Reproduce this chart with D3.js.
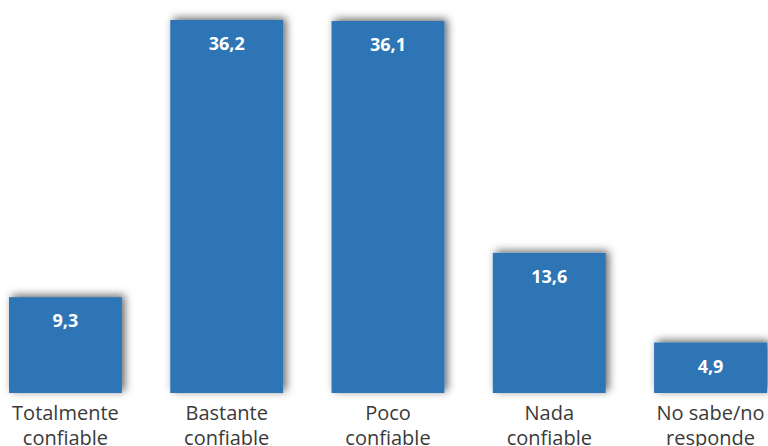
<!DOCTYPE html>
<html><head><meta charset="utf-8">
<script src="https://cdn.jsdelivr.net/npm/d3@7"></script>
<style>body{margin:0;background:#fff}svg{display:block}</style>
</head><body>
<script>
const categories = [["Totalmente","confiable"],["Bastante","confiable"],["Poco","confiable"],["Nada","confiable"],["No sabe/no","responde"]];
const values = [9.3, 36.2, 36.1, 13.6, 4.9];
const labels = ["9,3","36,2","36,1","13,6","4,9"];

const W = 768, H = 446;
const svg = d3.select("body").append("svg").attr("width", W).attr("height", H);
const defs = svg.append("defs");
const f = defs.append("filter").attr("id","sh").attr("x","-20%").attr("y","-30%").attr("width","140%").attr("height","160%");
f.append("feDropShadow").attr("dx",3).attr("dy",-2).attr("stdDeviation",4.5).attr("flood-color","#000").attr("flood-opacity",0.6);

const idx = d3.range(values.length);
const x = d3.scaleBand().domain(idx).range([9, 767]).paddingInner(0.3).paddingOuter(0);
const y = d3.scaleLinear().domain([0, 36.2]).range([393, 20]);

svg.append("g").selectAll("rect").data(idx).join("rect")
  .attr("x", i => x(i)).attr("width", x.bandwidth())
  .attr("y", i => y(values[i])).attr("height", i => y(0) - y(values[i]))
  .attr("fill", "#2E74B5").attr("filter","url(#sh)");

svg.append("g").selectAll("text").data(idx).join("text")
  .attr("x", i => x(i) + x.bandwidth()/2).attr("y", i => y(values[i]) + 30)
  .attr("text-anchor","middle").attr("fill","#fff")
  .attr("font-family","'Open Sans', sans-serif").attr("font-weight","bold").attr("font-size",18)
  .text(i => labels[i]);

const cg = svg.append("g").selectAll("text").data(idx).join("text")
  .attr("text-anchor","middle").attr("fill","#3a3a3a")
  .attr("font-family","'Open Sans', sans-serif").attr("font-size",20);
cg.each(function(i){
  const t = d3.select(this);
  categories[i].forEach((line, k) => {
    t.append("tspan").attr("x", x(i) + x.bandwidth()/2).attr("y", 420 + k*25).text(line);
  });
});
</script>
</body></html>
